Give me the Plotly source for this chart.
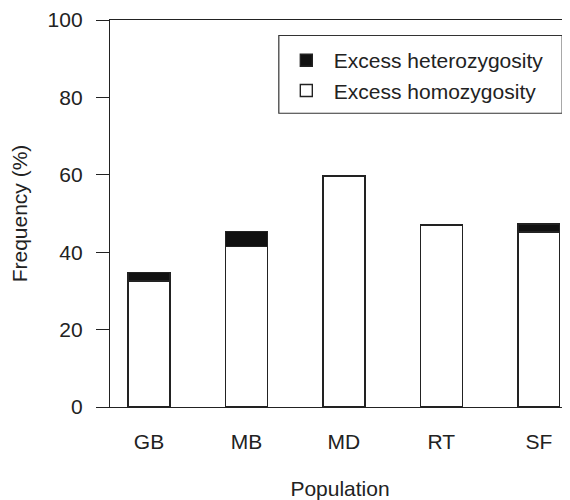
import plotly.graph_objects as go

populations = ["GB", "MB", "MD", "RT", "SF"]
excess_homozygosity = [32.6, 41.4, 59.7, 47.0, 45.2]
excess_heterozygosity = [2.1, 4.0, 0.0, 0.0, 2.1]
y_ticks = [0, 20, 40, 60, 80, 100]

FONT = "Liberation Sans, Arial, sans-serif"
FS = 21

fig = go.Figure()
fig.add_trace(go.Bar(
    x=populations, y=excess_homozygosity, name="Excess homozygosity",
    marker=dict(color="white", line=dict(color="#222", width=1.4)),
    width=0.43,
))
fig.add_trace(go.Bar(
    x=populations, y=excess_heterozygosity, name="Excess heterozygosity",
    marker=dict(color="#111", line=dict(color="#222", width=1.4)),
    width=0.43,
))

# legend frame
fig.add_shape(type="rect", xref="paper", yref="paper",
              x0=0.367, x1=0.983, y0=0.759, y1=0.96,
              line=dict(color="#333", width=1.2), fillcolor="rgba(0,0,0,0)")

fig.update_layout(
    barmode="stack",
    width=562, height=492,
    margin=dict(l=102, r=0, t=11.5, b=93),
    plot_bgcolor="white", paper_bgcolor="white",
    font=dict(family=FONT, size=FS, color="#222"),
    legend=dict(
        x=0.367, y=0.948, xanchor="left", yanchor="top",
        traceorder="reversed",
        borderwidth=0,
        font=dict(size=FS),
        itemwidth=45,
        bgcolor="rgba(0,0,0,0)",
    ),
    xaxis=dict(
        type="category",
        range=[-0.40, 4.32],
        automargin=False,
        showline=True, linecolor="#222", linewidth=1.4, mirror=True,
        ticks="", showgrid=False,
        ticklabelstandoff=16,
        title=dict(text="Population", standoff=28, font=dict(size=FS)),
    ),
    yaxis=dict(
        range=[0, 100],
        tickvals=y_ticks,
        automargin=False,
        showline=True, linecolor="#222", linewidth=1.4,
        ticks="outside", ticklen=13, tickwidth=1.4, tickcolor="#222",
        showgrid=False, zeroline=False,
        ticklabelstandoff=9,
        title=dict(text="Frequency (%)", standoff=19, font=dict(size=FS)),
    ),
)

fig.write_html("out.html")
